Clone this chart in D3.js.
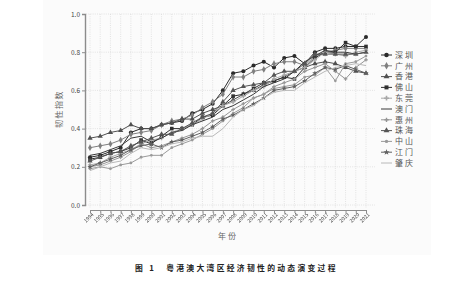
<html>
<head>
<script src="https://d3js.org/d3.v7.min.js"></script>
<style>
  body { margin: 0; background: #fff; }
  text { font-family: "Noto Sans CJK SC", "DejaVu Sans", sans-serif; }
  .gray { opacity: 0.999; will-change: transform; }
</style>
</head>
<body>
<script>
    // years and resilience index per city
    const years = d3.range(1994, 2022);
    const yTicks = [0, 0.2, 0.4, 0.6, 0.8, 1.0];

    const cities = ["深圳", "广州", "香港", "佛山", "东莞", "澳门", "惠州", "珠海", "中山", "江门", "肇庆"];

    const shenzhen  = [0.25,0.26,0.28,0.30,0.38,0.40,0.40,0.42,0.43,0.44,0.48,0.50,0.53,0.60,0.69,0.70,0.73,0.75,0.72,0.77,0.78,0.74,0.80,0.82,0.82,0.83,0.83,0.88];
    const guangzhou = [0.30,0.31,0.32,0.34,0.37,0.38,0.39,0.42,0.44,0.45,0.47,0.51,0.54,0.58,0.67,0.67,0.70,0.71,0.74,0.75,0.75,0.73,0.78,0.80,0.81,0.82,0.82,0.82];
    const hongkong  = [0.35,0.36,0.38,0.39,0.42,0.40,0.40,0.42,0.43,0.45,0.45,0.48,0.50,0.52,0.55,0.58,0.60,0.63,0.65,0.67,0.70,0.72,0.74,0.75,0.74,0.72,0.70,0.69];
    const foshan    = [0.24,0.25,0.27,0.28,0.30,0.34,0.32,0.36,0.40,0.40,0.42,0.46,0.47,0.52,0.57,0.58,0.61,0.64,0.65,0.67,0.66,0.72,0.77,0.80,0.80,0.85,0.83,0.83];
    const dongguan  = [0.21,0.22,0.25,0.27,0.29,0.32,0.34,0.35,0.38,0.40,0.42,0.45,0.48,0.52,0.54,0.57,0.60,0.62,0.66,0.68,0.70,0.72,0.76,0.80,0.79,0.78,0.80,0.81];
    const macau     = [0.26,0.27,0.29,0.31,0.35,0.36,0.33,0.35,0.38,0.39,0.42,0.44,0.46,0.50,0.52,0.55,0.58,0.62,0.64,0.66,0.70,0.75,0.78,0.81,0.80,0.80,0.79,0.80];
    const huizhou   = [0.20,0.21,0.23,0.25,0.28,0.32,0.30,0.31,0.33,0.35,0.37,0.40,0.44,0.46,0.50,0.53,0.56,0.58,0.62,0.64,0.66,0.70,0.72,0.74,0.70,0.66,0.72,0.76];
    const zhuhai    = [0.23,0.25,0.27,0.28,0.31,0.33,0.35,0.37,0.37,0.40,0.43,0.46,0.48,0.54,0.60,0.62,0.63,0.64,0.68,0.70,0.70,0.74,0.79,0.79,0.79,0.79,0.79,0.80];
    const zhongshan = [0.19,0.20,0.19,0.21,0.22,0.25,0.26,0.26,0.30,0.32,0.34,0.37,0.40,0.44,0.48,0.51,0.56,0.58,0.61,0.62,0.63,0.67,0.68,0.72,0.65,0.74,0.75,0.78];
    const jiangmen  = [0.20,0.22,0.24,0.26,0.29,0.31,0.32,0.30,0.33,0.34,0.36,0.38,0.41,0.45,0.47,0.50,0.53,0.56,0.60,0.61,0.62,0.65,0.69,0.72,0.71,0.73,0.71,0.69];
    const zhaoqing  = [0.18,0.20,0.22,0.23,0.27,0.30,0.29,0.30,0.32,0.33,0.35,0.36,0.36,0.40,0.46,0.50,0.52,0.56,0.59,0.60,0.60,0.64,0.67,0.70,0.72,0.73,0.74,0.73];

    const seriesValues = [shenzhen, guangzhou, hongkong, foshan, dongguan, macau, huizhou, zhuhai, zhongshan, jiangmen, zhaoqing];

    const colors  = ["#2a2a2a", "#7f7f7f", "#505050", "#303030", "#a8a8a8", "#383838", "#959595", "#555", "#9a9a9a", "#606060", "#b8b8b8"];
    const symbols = [d3.symbolCircle, d3.symbolDiamond, d3.symbolTriangle, d3.symbolSquare, d3.symbolCross, null, d3.symbolCross, d3.symbolTriangle, d3.symbolCircle, d3.symbolStar, null];
    const symSize = [13, 13, 12, 13, 10, 0, 7, 12, 6, 9, 0];

    const W = 458, H = 281;
    const svg = d3.select("body").append("svg").attr("width", W).attr("height", H);

    // faint panel behind the figure
    svg.append("rect").attr("x", 43).attr("y", 0).attr("width", 388).attr("height", 255).attr("fill", "#fbfbfb");

    const x = d3.scaleLinear().domain([1994, 2021]).range([90, 366]);
    const y = d3.scaleLinear().domain([0, 1]).range([205, 14]);

    // grid
    const grid = svg.append("g").attr("stroke", "#d4d4d4").attr("stroke-width", 0.6).attr("stroke-dasharray", "1,1.2");
    grid.selectAll(".vg").data(years).enter().append("line")
        .attr("x1", d => x(d)).attr("x2", d => x(d)).attr("y1", 14).attr("y2", 208);
    grid.selectAll(".hg").data(yTicks).enter().append("line")
        .attr("x1", 86).attr("x2", 375).attr("y1", d => y(d)).attr("y2", d => y(d));

    // y axis
    const yAxis = svg.append("g").attr("transform", "translate(85,0)")
        .call(d3.axisLeft(y).tickValues(yTicks).tickFormat(d3.format(".1f")).tickSize(3).tickPadding(2));
    yAxis.select(".domain").attr("stroke", "#8c8c8c").attr("stroke-width", 1.4);
    yAxis.selectAll(".tick line").attr("stroke", "#8c8c8c");
    yAxis.selectAll("text").attr("font-size", 6.5).attr("fill", "#444").attr("font-family", "Liberation Sans, Arial, sans-serif");

    // x axis
    const xAxis = svg.append("g").attr("class", "gray").attr("transform", "translate(0,210)")
        .call(d3.axisBottom(x).tickValues(years).tickFormat(d3.format("d")).tickSize(3).tickSizeOuter(0));
    xAxis.select(".domain").attr("stroke", "#8c8c8c").attr("stroke-width", 1.2);
    xAxis.selectAll(".tick line").attr("stroke", "#8c8c8c");
    xAxis.selectAll("text")
        .attr("font-size", 5.2).attr("fill", "#444").attr("font-family", "Liberation Sans, Arial, sans-serif")
        .attr("text-anchor", "end").attr("dy", 0).attr("y", 4)
        .attr("transform", "rotate(-45) translate(-1,2)");

    // lines
    const line = d3.line().x((d, i) => x(years[i])).y(d => y(d));
    const series = svg.append("g").selectAll("g").data(seriesValues).enter().append("g");
    series.append("path")
        .attr("d", d => line(d))
        .attr("fill", "none")
        .attr("stroke", (d, i) => colors[i])
        .attr("stroke-width", 1);
    series.each(function(vals, i) {
        if (!symbols[i]) return;
        d3.select(this).selectAll("path.m").data(vals).enter().append("path")
            .attr("class", "m")
            .attr("d", d3.symbol().type(symbols[i]).size(symSize[i]))
            .attr("transform", (d, j) => `translate(${x(years[j])},${y(d)})`)
            .attr("fill", colors[i]).attr("stroke", "none");
    });

    // legend
    const legend = svg.append("g").selectAll("g").data(cities).enter().append("g")
        .attr("transform", (d, i) => `translate(381,${55 + i * 10.8})`);
    legend.append("line").attr("x1", 0).attr("x2", 11).attr("stroke", (d, i) => colors[i]).attr("stroke-width", 1);
    legend.each(function(d, i) {
        if (!symbols[i]) return;
        d3.select(this).append("path")
            .attr("d", d3.symbol().type(symbols[i]).size(symSize[i] + 3)())
            .attr("transform", "translate(5.5,0)")
            .attr("fill", colors[i]);
    });
    legend.append("text").attr("x", 14).attr("dy", "0.36em")
        .attr("font-size", 8).style("letter-spacing", "2px").attr("fill", "#555").text(d => d);

    // axis titles
    svg.append("text").attr("transform", "translate(62,109) rotate(-90)")
        .attr("text-anchor", "middle").attr("font-size", 8).style("letter-spacing", "1.5px")
        .attr("fill", "#666").text("韧性指数");
    svg.append("text").attr("x", 228).attr("y", 239)
        .attr("text-anchor", "middle").attr("font-size", 8).style("letter-spacing", "2px")
        .attr("fill", "#666").text("年份");

    // caption
    svg.append("text").attr("x", 135).attr("y", 271)
        .attr("font-size", 7.8).attr("font-weight", "bold").attr("fill", "#222").style("letter-spacing", "2.3px")
        .text("图 1\u3000粤港澳大湾区经济韧性的动态演变过程");
</script>
</body>
</html>
